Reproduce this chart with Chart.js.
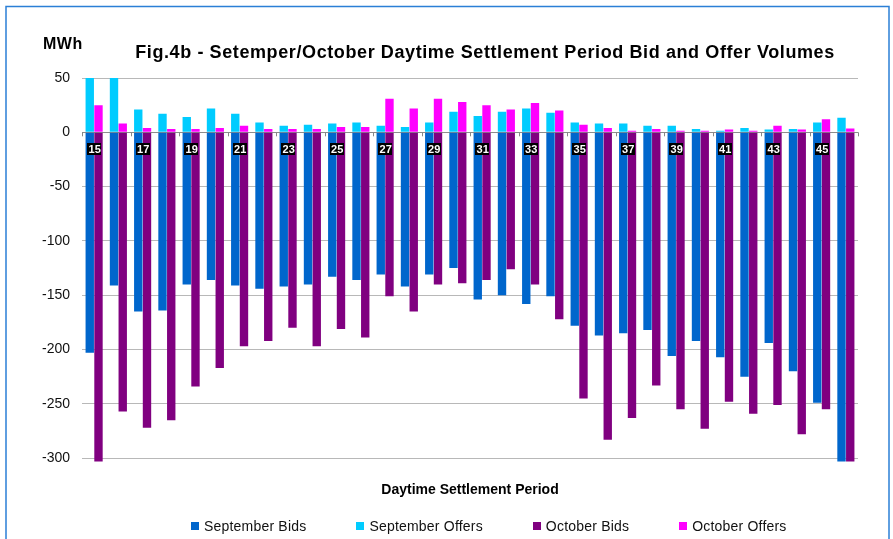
<!DOCTYPE html>
<html>
<head>
<meta charset="utf-8">
<title>Fig.4b - Bid and Offer Volumes</title>
<script src="https://cdn.jsdelivr.net/npm/chart.js@4"></script>
<style>
  body { margin: 0; background: #fff; }
  #wrap { position: relative; width: 893px; height: 539px; }
  #legend { position: absolute; left: 191px; top: 518px; display: flex; gap: 50px;
            font: 14px "Liberation Sans", Arial, sans-serif; letter-spacing: 0.2px; color: #111; }
  #legend .item { display: flex; align-items: center; white-space: nowrap; }
  #legend .box { width: 8px; height: 8px; margin-right: 5px; }
</style>
</head>
<body>
<div id="wrap">
  <canvas id="chart" width="893" height="539"></canvas>
  <div id="legend"></div>
</div>
<script>
// Daytime settlement periods 15..46
const periods = ['15','16','17','18','19','20','21','22','23','24','25','26','27','28','29','30',
                 '31','32','33','34','35','36','37','38','39','40','41','42','43','44','45','46'];

// MWh
const septemberBids = [-203, -141, -165, -164, -140, -136, -141, -144, -142, -140, -133, -136, -131, -142, -131, -125,
                       -154, -150, -158, -151, -178, -187, -185, -182, -206, -192, -207, -225, -194, -220, -249, -303];
const septemberOffers = [52, 52, 21, 17, 14, 22, 17, 9, 6, 7, 8, 9, 6, 5, 9, 19,
                         15, 19, 22, 18, 9, 8, 8, 6, 6, 3, 1.5, 4, 2.5, 3, 9, 13.5];
const octoberBids = [-303, -257, -272, -265, -234, -217, -197, -192, -180, -197, -181, -189, -151, -165, -140, -139,
                     -136, -126, -140, -172, -245, -283, -263, -233, -255, -273, -248, -259, -251, -278, -255, -303];
const octoberOffers = [25, 8, 4, 3, 3, 4, 6, 3, 3, 3, 5, 5, 31, 22, 31, 28,
                       25, 21, 27, 20, 7, 4, 1.5, 3, 1.5, 1.5, 2.5, 1.5, 6, 2.5, 12, 3.5];

const yTicks = [50, 0, -50, -100, -150, -200, -250, -300];

const FONT = '"Liberation Sans", Arial, sans-serif';

// blue frame, chart title and the MWh unit label
const decorations = {
  id: 'decorations',
  beforeDraw(chart) {
    const ctx = chart.ctx;
    ctx.save();
    ctx.strokeStyle = '#2b7fd6';
    ctx.lineWidth = 1.5;
    ctx.strokeRect(6, 6.5, 883, 600);
    ctx.restore();
  },
  afterDraw(chart) {
    const ctx = chart.ctx;
    ctx.save();
    ctx.fillStyle = '#000';
    ctx.textBaseline = 'middle';
    ctx.textAlign = 'center';
    ctx.font = 'bold 18px ' + FONT;
    ctx.letterSpacing = '0.6px';
    ctx.fillText('Fig.4b - Setemper/October Daytime Settlement Period Bid and Offer Volumes', 485, 53);
    ctx.textAlign = 'left';
    ctx.font = 'bold 16px ' + FONT;
    ctx.letterSpacing = '0.5px';
    ctx.fillText('MWh', 43, 45);
    ctx.restore();
  }
};

// period numbers in black boxes just under the zero line, every other period,
// plus the small tick marks on the zero line
const periodLabels = {
  id: 'periodLabels',
  afterDatasetsDraw(chart) {
    const ctx = chart.ctx;
    const x = chart.scales.x;
    const y0 = chart.scales.y.getPixelForValue(0);
    const half = (x.getPixelForValue(1) - x.getPixelForValue(0)) / 2;
    ctx.save();
    ctx.strokeStyle = '#888';
    ctx.lineWidth = 1;
    for (let i = 0; i <= periods.length; i += 2) {
      const px = Math.round(x.getPixelForValue(i) - half) + 0.5;
      ctx.beginPath();
      ctx.moveTo(px, y0);
      ctx.lineTo(px, y0 + 4);
      ctx.stroke();
    }
    ctx.font = 'bold 11px ' + FONT;
    ctx.textAlign = 'center';
    ctx.textBaseline = 'middle';
    for (let i = 0; i < periods.length; i += 2) {
      const px = x.getPixelForValue(i);
      const w = ctx.measureText(periods[i]).width + 2;
      ctx.fillStyle = '#000';
      ctx.fillRect(Math.round(px - w / 2), Math.round(y0 + 11), Math.round(w), 12);
      ctx.fillStyle = '#fff';
      ctx.fillText(periods[i], px + 0.5, y0 + 17.5);
    }
    ctx.restore();
  }
};

const ctx = document.getElementById('chart').getContext('2d');
const chart = new Chart(ctx, {
  type: 'bar',
  data: {
    labels: periods,
    datasets: [
      { label: 'September Bids', data: septemberBids, stack: 'sep', backgroundColor: '#0066cc', clip: { left: 0, top: 0, right: 0, bottom: 4 } },
      { label: 'September Offers', data: septemberOffers, stack: 'sep', backgroundColor: '#00ccff' },
      { label: 'October Bids', data: octoberBids, stack: 'oct', backgroundColor: '#800080', clip: { left: 0, top: 0, right: 0, bottom: 4 } },
      { label: 'October Offers', data: octoberOffers, stack: 'oct', backgroundColor: '#ff00ff' }
    ]
  },
  options: {
    responsive: false,
    animation: false,
    categoryPercentage: 0.72,
    barPercentage: 0.96,
    layout: { padding: { left: 0, right: 35, top: 78, bottom: 40 } },
    plugins: {
      legend: { display: false },
      tooltip: { enabled: false }
    },
    scales: {
      x: {
        stacked: true,
        grid: { display: false },
        border: { display: false },
        ticks: { display: false },
        title: {
          display: true,
          text: 'Daytime Settlement Period',
          color: '#000',
          font: { family: FONT, size: 14, weight: 'bold' },
          padding: { top: 16, bottom: 0 }
        }
      },
      y: {
        stacked: true,
        min: -300,
        max: 50,
        afterBuildTicks: (scale) => { scale.ticks = yTicks.map(v => ({ value: v })); },
        afterFit: (scale) => { scale.width = 82; },
        border: { display: false },
        grid: {
          drawTicks: false,
          color: (c) => c.tick && c.tick.value === 0 ? '#8c8c8c' : '#b8b8b8'
        },
        ticks: {
          padding: 12,
          color: '#111',
          font: { family: FONT, size: 14 }
        }
      }
    }
  },
  plugins: [decorations, periodLabels]
});

// legend built from the chart's datasets
const legendEl = document.getElementById('legend');
chart.data.datasets.forEach(ds => {
  const item = document.createElement('div');
  item.className = 'item';
  const box = document.createElement('span');
  box.className = 'box';
  box.style.background = ds.backgroundColor;
  item.appendChild(box);
  item.appendChild(document.createTextNode(ds.label));
  legendEl.appendChild(item);
});
</script>
</body>
</html>
